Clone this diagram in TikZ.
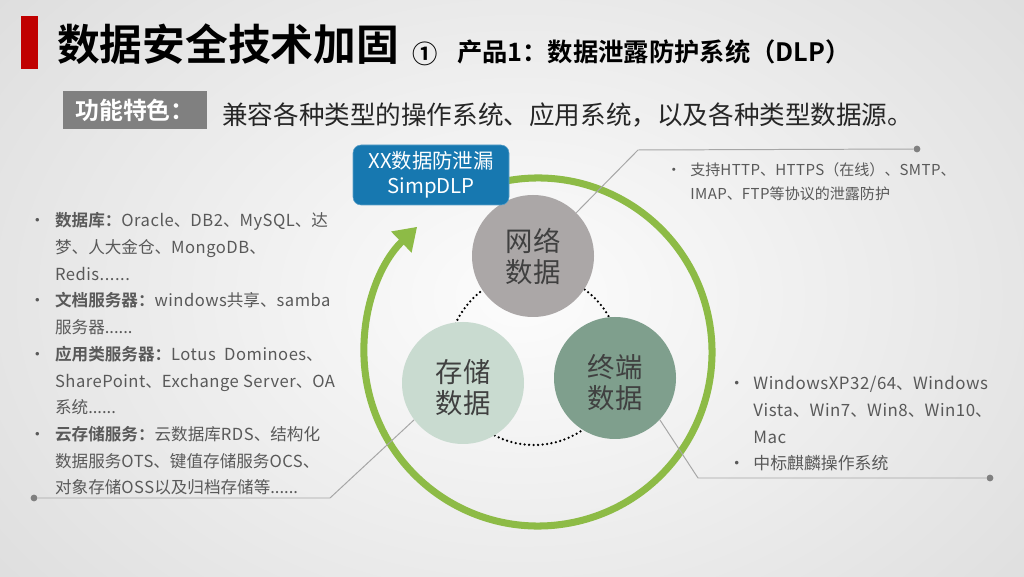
\documentclass[tikz,border=0pt]{standalone}
\usepackage{fontspec}
\setmainfont{Noto Sans CJK SC}[BoldFont={Noto Sans CJK SC Bold}]
\usetikzlibrary{arrows.meta, positioning}
\definecolor{ringgreen}{HTML}{8DBB46}
\definecolor{netgray}{HTML}{ABA7A7}
\definecolor{storegreen}{HTML}{C9DBD0}
\definecolor{termgreen}{HTML}{7F9F8D}
\definecolor{boxblue}{HTML}{1778B0}
\definecolor{barred}{HTML}{C00000}
\definecolor{bodygray}{HTML}{595959}
\newcommand{\bul}[1]{\makebox[#1][l]{•}}
\newcommand{\lat}[1]{{\addfontfeatures{LetterSpace=3}#1}}
\newcommand{\zcolon}{\char"FF1A\relax}
\newcommand{\zcomma}{\char"FF0C\relax}
\newcommand{\zopen}{\char"FF08\relax}
\newcommand{\zclose}{\char"FF09\relax}
\tikzset{
	databox/.style={circle, minimum size=3.05cm, inner sep=0pt, align=center, text=black!75, font=\fontsize{19.5}{22}\selectfont},
	itemtext/.style={anchor=north west, align=left, inner sep=0pt, text=bodygray, font=\fontsize{11.8}{19}\selectfont},
	leader/.style={draw=black!35, line width=0.7pt},
	enddot/.style={circle, fill=black!50, minimum size=0.17cm, inner sep=0pt}
}
\begin{document}
\begin{tikzpicture}
	\useasboundingbox (0,0) rectangle (25.6,14.4);
	\shade[inner color=black!1, outer color=black!16] (-8,-8) rectangle (34,22);
	
	% header
	\fill[barred] (0.525,12.675) rectangle (0.95,14);
	\node[anchor=west, inner sep=0pt, font=\fontsize{30.4}{32}\selectfont\bfseries] (title) at (1.42,13.3) {数据安全技术加固};
	\node[anchor=west, inner sep=0pt, font=\fontsize{18}{20}\selectfont\bfseries] (num) at (10.3,13.05) {①};
	\node[anchor=west, inner sep=0pt, font=\fontsize{18}{20}\selectfont\bfseries] (subtitle) at (11.42,13.1) {产品1\zcolon 数据泄露防护系统\zopen DLP\zclose};
	\node[fill=black!50, text=white, minimum width=3.6cm, minimum height=0.95cm, inner sep=0pt, font=\fontsize{17}{19}\selectfont\bfseries] (feature) at (3.375,11.65) {功能特色\zcolon};
	\node[anchor=west, inner sep=0pt, text=black!85, font=\fontsize{18.2}{20}\selectfont] (summary) at (5.55,11.52) {兼容各种类型的操作系统、应用系统\zcomma 以及各种类型数据源。};
	
	% ring
	\coordinate (ringc) at (13.45,5.6);
	\draw[ringgreen, line width=5pt, -{Triangle[length=0.55cm, width=0.7cm]}] ([shift=(102:4.35)]ringc) arc[start angle=102, end angle=-226, radius=4.35];
	\draw[line width=1.8pt, dash pattern=on 0pt off 3.2pt, line cap=round] (13.35,5.425) circle (2.15);
	
	% data circles
	\node[databox, fill=netgray] (net) at (13.325,8) {网络\\数据};
	\node[databox, fill=storegreen] (store) at (11.575,4.825) {\rule{0pt}{1.17em}存储\\数据};
	\node[databox, fill=termgreen] (term) at (15.375,4.95) {\rule{0pt}{1.17em}终端\\数据};
	\node[fill=boxblue, draw=boxblue!70, rounded corners=0.2cm, minimum width=3.9cm, minimum height=1.5cm, inner sep=0pt, align=center, text=white, font=\fontsize{14.5}{17.5}\selectfont] (product) at (10.775,10.025) {XX数据防泄漏\\SimpDLP};
	
	% leaders
	\node[enddot] (netend) at (22.925,10.675) {};
	\node[enddot] (storeend) at (0.85,1.95) {};
	\node[enddot] (termend) at (24.75,2.45) {};
	\coordinate (netbend) at (15.95,10.65);
	\coordinate (storebend) at (8.25,1.95);
	\coordinate (termbend) at (17.45,2.45);
	\draw[leader] (net.45) -- (netbend) -- (netend);
	\draw[leader] (store.217) -- (storebend) -- (storeend);
	\draw[leader] (term.-43) -- (termbend) -- (termend);
	
	% texts
	\node[itemtext] (dbtext) at (0.72,9.09) {
		\bul{0.65cm}\textbf{数据库\zcolon}\lat{Oracle}、\lat{DB2}、\lat{MySQL}、达\\
		\hspace*{0.65cm}梦、人大金仓、\lat{MongoDB}、\\
		\hspace*{0.65cm}\lat{Redis......}\\
		\bul{0.65cm}\textbf{文档服务器\zcolon}\lat{windows}共享、\lat{samba}\\
		\hspace*{0.65cm}服务器......\\
		\bul{0.65cm}\textbf{应用类服务器\zcolon}\lat{Lotus~~Dominoes}、\\
		\hspace*{0.65cm}\lat{SharePoint}、\lat{Exchange Server}、\lat{OA}\\
		\hspace*{0.65cm}系统......\\
		\bul{0.65cm}\textbf{云存储服务\zcolon}云数据库\lat{RDS}、结构化\\
		\hspace*{0.65cm}数据服务\lat{OTS}、键值存储服务\lat{OCS}、\\
		\hspace*{0.65cm}对象存储\lat{OSS}以及归档存储等......};
	\node[itemtext, font=\fontsize{10.7}{17}\selectfont] (nettext) at (16.65,10.35) {
		\bul{0.6cm}支持\lat{HTTP}、\lat{HTTPS}\zopen 在线\zclose 、\lat{SMTP}、\\
		\hspace*{0.6cm}\lat{IMAP}、\lat{FTP}等协议的泄露防护};
	\node[itemtext, font=\fontsize{12}{19}\selectfont] (termtext) at (18.2,5.0) {
		\bul{0.63cm}\lat{WindowsXP32/64}、\lat{Windows}\\
		\hspace*{0.63cm}\lat{Vista}、\lat{Win7}、\lat{Win8}、\lat{Win10}、\\
		\hspace*{0.63cm}\lat{Mac}\\
		\bul{0.63cm}中标麒麟操作系统};
\end{tikzpicture}
\end{document}
